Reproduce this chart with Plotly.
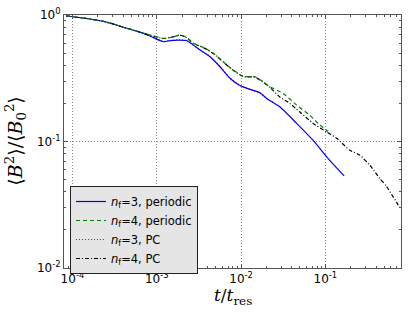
import plotly.graph_objects as go

# ---- data ----
t_blue = [8.41e-5, 1.416e-4, 2.44e-4, 3.85e-4, 6.05e-4, 8.34e-4, 1.197e-3, 1.439e-3, 1.786e-3, 2.265e-3,
          2.716e-3, 3.26e-3, 4.28e-3, 5.62e-3, 7.38e-3, 9.68e-3, 0.01274, 0.0167, 0.0201, 0.0288,
          0.0456, 0.0716, 0.1079, 0.167]
b_blue = [0.982, 0.942, 0.885, 0.808, 0.738, 0.682, 0.615, 0.628, 0.634, 0.628,
          0.578, 0.528, 0.468, 0.390, 0.316, 0.277, 0.258, 0.243, 0.219, 0.188,
          0.139, 0.102, 0.0733, 0.0535]

t_red = [8.41e-5, 1.416e-4, 2.44e-4, 3.85e-4, 6.05e-4, 8.34e-4, 1.197e-3, 1.439e-3, 1.786e-3, 2.265e-3,
         2.716e-3, 3.26e-3, 4.28e-3, 5.62e-3, 7.38e-3, 9.68e-3, 0.01274, 0.0167, 0.0201, 0.024]
b_red = [0.982, 0.942, 0.885, 0.808, 0.738, 0.682, 0.617, 0.630, 0.635, 0.627,
         0.579, 0.530, 0.470, 0.392, 0.318, 0.278, 0.259, 0.243, 0.220, 0.205]

t_green = [8.41e-5, 1.416e-4, 2.44e-4, 3.85e-4, 6.05e-4, 8.34e-4, 1.197e-3, 1.574e-3, 1.888e-3, 2.265e-3,
           2.716e-3, 3.565e-3, 4.69e-3, 6.15e-3, 8.09e-3, 0.01062, 0.01462, 0.01832, 0.02198, 0.0316,
           0.0456, 0.0655, 0.0861, 0.1079]
b_green = [0.982, 0.942, 0.885, 0.808, 0.738, 0.695, 0.654, 0.673, 0.695, 0.664,
           0.597, 0.555, 0.498, 0.427, 0.367, 0.327, 0.325, 0.296, 0.271, 0.240,
           0.194, 0.161, 0.135, 0.120]

t_black = [8.41e-5, 1.416e-4, 2.44e-4, 3.85e-4, 6.05e-4, 8.34e-4, 1.197e-3, 1.574e-3, 1.888e-3, 2.265e-3,
           2.716e-3, 3.565e-3, 4.69e-3, 6.15e-3, 8.09e-3, 0.01062, 0.01462, 0.01832, 0.02198, 0.0288,
           0.0379, 0.0498, 0.0716, 0.1033, 0.1358, 0.195, 0.256, 0.337, 0.443, 0.531,
           0.608, 0.698, 0.764]
b_black = [0.982, 0.942, 0.885, 0.808, 0.738, 0.693, 0.652, 0.671, 0.692, 0.662,
           0.596, 0.553, 0.496, 0.425, 0.365, 0.326, 0.323, 0.294, 0.268, 0.225,
           0.200, 0.171, 0.139, 0.119, 0.106, 0.0853, 0.078, 0.0649, 0.0509, 0.0443,
           0.0383, 0.0332, 0.030]

x_tickvals = [1e-4, 1e-3, 1e-2, 1e-1]
x_ticktext = ["10<sup>-4</sup>", "10<sup>-3</sup>", "10<sup>-2</sup>", "10<sup>-1</sup>"]
y_tickvals = [1e-2, 1e-1, 1]
y_ticktext = ["10<sup>-2</sup>", "10<sup>-1</sup>", "10<sup>0</sup>"]

names = ["<i>n</i><sub>f</sub>=3, periodic", "<i>n</i><sub>f</sub>=4, periodic",
         "<i>n</i><sub>f</sub>=3, PC", "<i>n</i><sub>f</sub>=4, PC"]

fig = go.Figure()
# draw order: red under blue, black under green; legend order kept with legendrank
fig.add_trace(go.Scatter(x=t_red, y=b_red, mode="lines", name=names[2], legendrank=3,
                         line=dict(color="#ff0000", width=1.2, dash="1px,2px", shape="spline", smoothing=0.6)))
fig.add_trace(go.Scatter(x=t_blue, y=b_blue, mode="lines", name=names[0], legendrank=1,
                         line=dict(color="#0000ff", width=1.2, shape="spline", smoothing=0.6)))
fig.add_trace(go.Scatter(x=t_black, y=b_black, mode="lines", name=names[3], legendrank=4,
                         line=dict(color="#000000", width=1.2, dash="4px,2px,1px,2px", shape="spline", smoothing=0.6)))
fig.add_trace(go.Scatter(x=t_green, y=b_green, mode="lines", name=names[1], legendrank=2,
                         line=dict(color="#008000", width=1.2, dash="4px,3px", shape="spline", smoothing=0.6)))

def minor_vals(lo, hi):
    v = []
    for e in range(lo, hi):
        for m in range(2, 10):
            v.append(m * 10.0 ** e)
    return v

axis_common = dict(
    type="log", showline=True, linecolor="#555555", linewidth=1, mirror="allticks",
    ticks="inside", ticklen=4, tickcolor="#555555", automargin=False,
    showgrid=True, gridcolor="#8a8a8a", griddash="1px,2px", gridwidth=1,
    zeroline=False, tickfont=dict(family="DejaVu Sans", size=12, color="#000000"),
)

fig.update_xaxes(**axis_common, range=[-4.1, -0.103], tickvals=x_tickvals, ticktext=x_ticktext,
                 minor=dict(ticks="inside", ticklen=2, tickcolor="#555555", tickvals=minor_vals(-5, 1), showgrid=False))
fig.update_yaxes(**axis_common, range=[-2, 0], tickvals=y_tickvals, ticktext=y_ticktext,
                 minor=dict(ticks="inside", ticklen=2, tickcolor="#555555", tickvals=minor_vals(-3, 1), showgrid=False))

# axis titles
fig.add_annotation(text="<i>t</i>/<i>t</i><sub>res</sub>", xref="paper", yref="paper",
                   x=0.501, y=-0.112, xanchor="center", yanchor="middle", showarrow=False,
                   font=dict(family="DejaVu Serif", size=17, color="#000"))
fig.add_annotation(text="⟨<i>B</i><sup>2</sup>⟩/⟨<i>B</i><sub>0</sub><sup>2</sup>⟩", xref="paper", yref="paper",
                   x=-0.145, y=0.5, xanchor="center", yanchor="middle", showarrow=False, textangle=-90,
                   font=dict(family="DejaVu Serif", size=19, color="#000"))

# legend shadow
fig.add_shape(type="rect", xref="paper", yref="paper", x0=(73 - 64) / 337, x1=(198 - 64) / 337,
              y0=(268 - 265.5) / 253, y1=(268 - 189) / 253,
              fillcolor="#4d4d4d", line=dict(width=0), layer="above")

fig.update_layout(
    width=415, height=313, margin=dict(l=64, r=14, t=15, b=45),
    paper_bgcolor="white", plot_bgcolor="white",
    showlegend=True,
    legend=dict(x=(70 - 64) / 337, y=(268 - 186) / 253, xanchor="left", yanchor="top", bgcolor="#e5e5e5",
                bordercolor="#222222", borderwidth=1,
                font=dict(family="DejaVu Sans", size=11.5, color="#000"), tracegroupgap=0,
                itemwidth=30),
)

fig.write_html("out.html", config={"displayModeBar": False},
               post_script="document.body.style.margin='0';document.body.style.overflow='hidden';")
